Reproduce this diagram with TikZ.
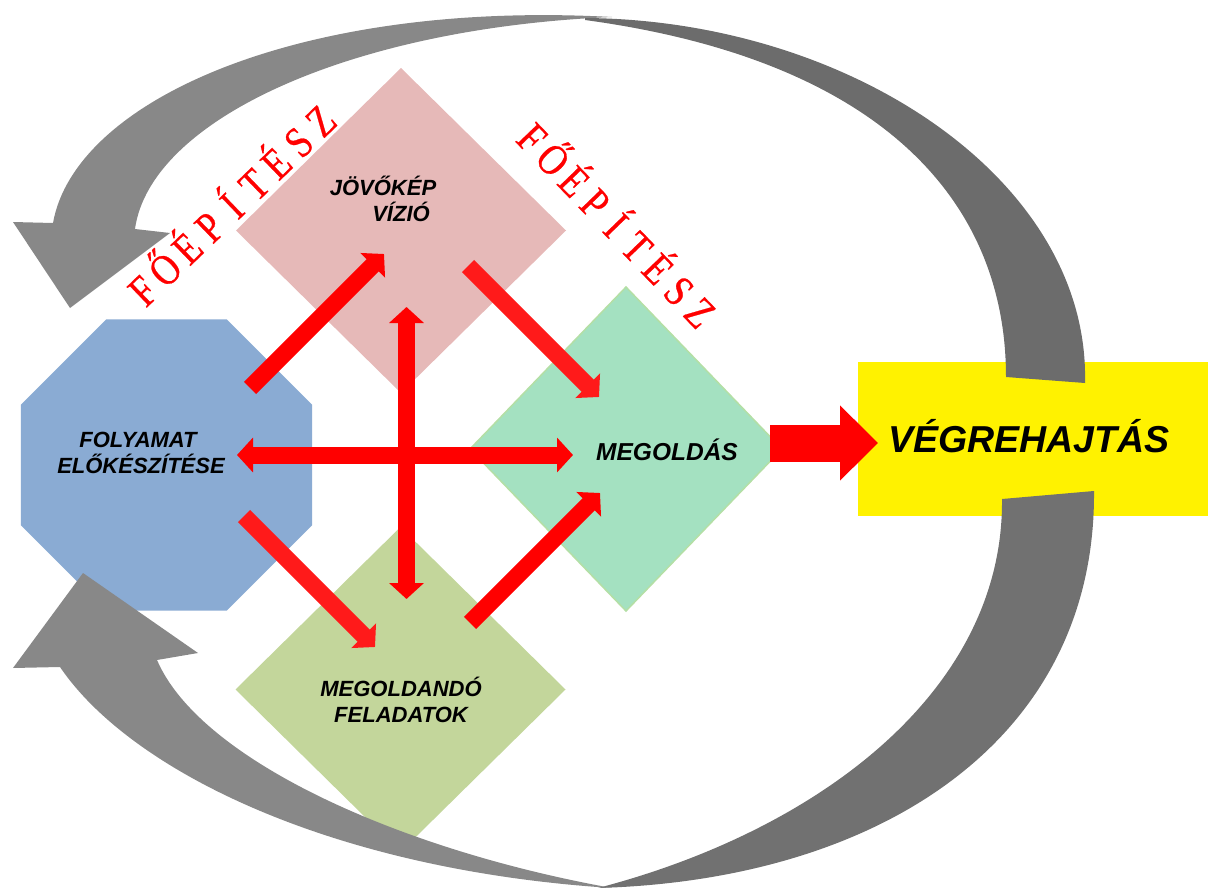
\documentclass[tikz,border=0pt]{standalone}
\usepackage{fontspec}
\setmainfont{Liberation Sans}
\newfontfamily\redserif[FakeBold=0.6]{Liberation Serif}
\usetikzlibrary{shapes.geometric,arrows.meta,calc}
\definecolor{pinkc}{RGB}{230,185,184}
\definecolor{greenc}{RGB}{164,225,193}
\definecolor{greenb}{RGB}{180,223,165}
\definecolor{olivec}{RGB}{195,214,155}
\definecolor{bluec}{RGB}{138,171,211}
\definecolor{grayl}{RGB}{136,136,136}
\definecolor{grayd}{RGB}{108,108,108}
\definecolor{graym}{RGB}{113,113,113}
\definecolor{redc}{RGB}{255,0,0}
\definecolor{redl}{RGB}{255,26,26}
\begin{document}
\begin{tikzpicture}[x=1pt,y=-1pt,
  lbl/.style={font=\fontsize{22}{26}\selectfont\bfseries\itshape, inner sep=0pt, anchor=base},
  redletter/.style={font=\fontsize{44}{48}\selectfont\redserif, text=redc, inner sep=0pt, anchor=base},
  redarr/.style={draw=#1, line width=17pt, -{Triangle[length=16pt,width=34pt]}},
  redarrs/.style={draw=redc, line width=17pt, {Triangle[length=16pt,width=34pt]}-{Triangle[length=16pt,width=34pt]}},
  bigarr/.style={draw=redc, line width=37pt, -{Triangle[length=38pt,width=73pt]}},
  shapebox/.style={inner sep=0pt, outer sep=0pt}
  ]
\useasboundingbox (0,0) rectangle (1208,888);
% shapes
\node[shapebox, regular polygon, regular polygon sides=8, minimum size=315pt, fill=bluec] (oct) at (166.5,465) {};
\node[shapebox, diamond, minimum width=330pt, minimum height=325pt, fill=pinkc] (pink) at (401,230.5) {};
\node[shapebox, diamond, minimum width=312pt, minimum height=324pt, fill=greenc, draw=greenb, line width=1.5pt] (green) at (626,449) {};
\node[shapebox, diamond, minimum width=330pt, minimum height=325pt, fill=olivec] (olive) at (400.5,689.5) {};
\node[shapebox, rectangle, minimum width=350pt, minimum height=154pt, fill=yellow] (yellowbox) at (1033,439) {};
% gray curved arrows
\fill[grayl] (13,222) -- (53,223) .. controls (75,100) and (300,0) .. (612,17)
  .. controls (350,28) and (150,120) .. (135,229) -- (170,233) -- (70,308) -- cycle;
\fill[grayd] (585,18) .. controls (850,20) and (1090,180) .. (1085,383) -- (1006,377)
  .. controls (1006,200) and (880,60) .. (585,20) -- cycle;
\fill[graym] (1094,491) .. controls (1096,740) and (880,880) .. (598,888)
  .. controls (820,830) and (1004,690) .. (1002,499) -- cycle;
\fill[grayl] (83,573) -- (13,668) -- (60,667) .. controls (130,770) and (330,870) .. (612,888)
  .. controls (400,850) and (200,760) .. (157,660) -- (198,653) -- cycle;
% arrow end points
\coordinate (a1s) at (250,388);   \coordinate (a1e) at (384,254);
\coordinate (a2s) at (468,266);   \coordinate (a2e) at (599,397);
\coordinate (a3s) at (406.5,307); \coordinate (a3e) at (406.5,599);
\coordinate (a4s) at (237,455);   \coordinate (a4e) at (573,455);
\coordinate (a5s) at (244,516);   \coordinate (a5e) at (375,647);
\coordinate (a6s) at (470,623);   \coordinate (a6e) at (600,493);
\coordinate (bgs) at (770,443);   \coordinate (bge) at (878,443);
% red arrows
\draw[redarrs] (a4s) -- (a4e);
\draw[redarrs] (a3s) -- (a3e);
\draw[redarr=redc] (a1s) -- (a1e);
\draw[redarr=redl] (a2s) -- (a2e);
\draw[redarr=redl] (a5s) -- (a5e);
\draw[redarr=redc] (a6s) -- (a6e);
\draw[bigarr] (bgs) -- (bge);
% labels
\node[lbl] (jov) at (383,195) {JÖVŐKÉP};
\node[lbl] (viz) at (401,222) {VÍZIÓ};
\node[lbl] (fol) at (138,447) {FOLYAMAT};
\node[lbl] (elo) at (141,473) {ELŐKÉSZÍTÉSE};
\node[lbl, font=\fontsize{24.5}{28}\selectfont\bfseries\itshape] (meg) at (667,460) {MEGOLDÁS};
\node[lbl] (mgd) at (401,696) {MEGOLDANDÓ};
\node[lbl] (fel) at (401,722) {FELADATOK};
\node[lbl, font=\fontsize{37.5}{40}\selectfont\bfseries\itshape] (veg) at (1029,452) {VÉGREHAJTÁS};
% red spaced letters
\foreach \ch [count=\i from 0] in {F,Ő,É,P,Í,T,É,S,Z}
  \node[redletter, rotate=44, xscale=0.82] (lt\i) at ($(153.1,301.5)!{\i/8}!(331.1,131.5)$) {\ch};
\foreach \ch [count=\i from 0] in {F,Ő,É,P,Í,T,É,S,Z}
  \node[redletter, rotate=-46, xscale=0.82] (rt\i) at ($(521.5,148.1)!{\i/8}!(689.5,323.1)$) {\ch};
\end{tikzpicture}
\end{document}
